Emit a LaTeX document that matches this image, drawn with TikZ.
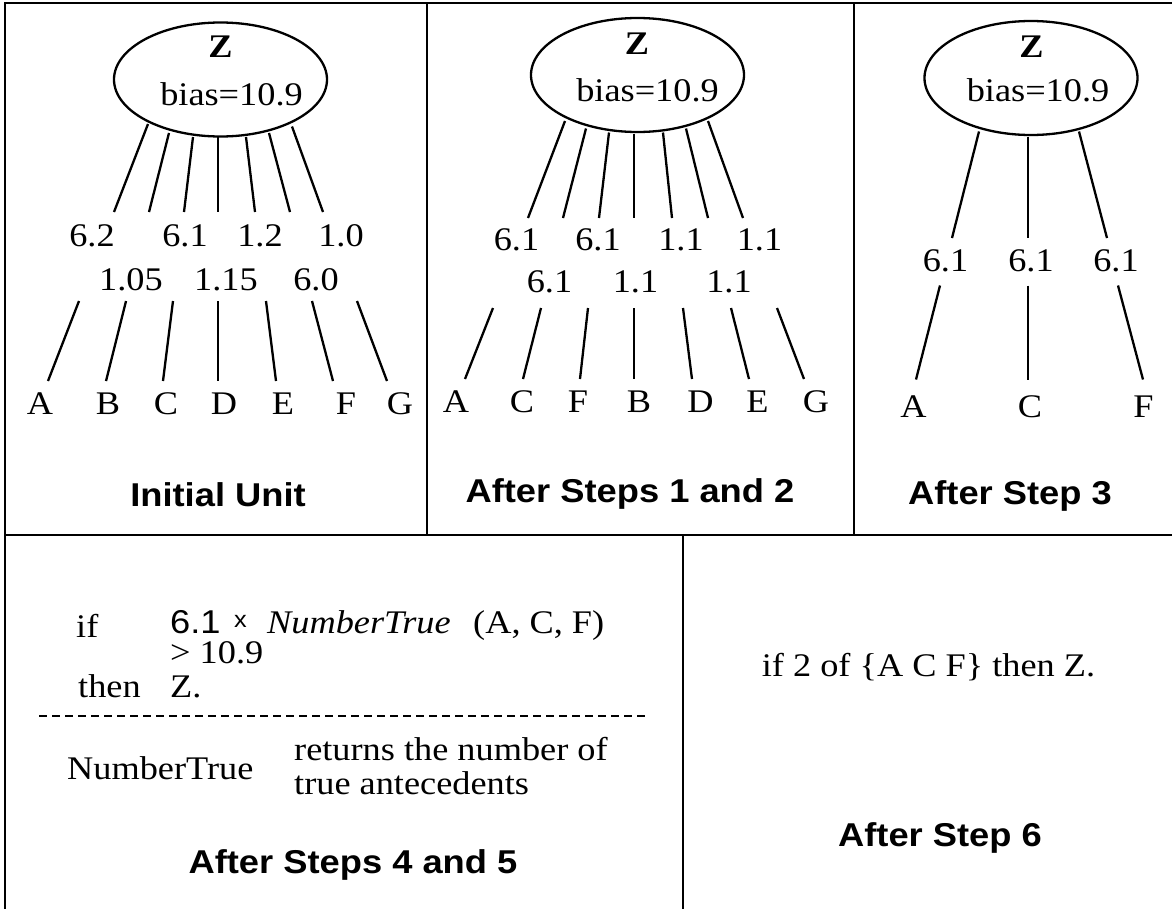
\documentclass[tikz,border=0pt]{standalone}
\usepackage{fontspec}
\setmainfont{Liberation Serif}[FakeStretch=1.1]
\setsansfont{Liberation Sans}[FakeStretch=1.1]
\usetikzlibrary{shapes.geometric}
\begin{document}
\begin{tikzpicture}[x=1bp,y=-1bp,
  frame/.style={line width=2.6bp},
  edge/.style={line width=2.3bp},
  unit/.style={draw,ellipse,line width=2.3bp,inner sep=0pt,minimum width=213bp,minimum height=114bp},
  txt/.style={inner sep=0pt,anchor=base,font=\fontsize{33bp}{40bp}\selectfont},
  txtw/.style={inner sep=0pt,anchor=base west,font=\fontsize{33bp}{40bp}\selectfont},
  ztxt/.style={inner sep=0pt,anchor=base,font=\fontsize{33bp}{40bp}\selectfont\bfseries},
  ttl/.style={inner sep=0pt,anchor=base,font=\fontsize{33bp}{40bp}\selectfont\sffamily\bfseries},
]
\useasboundingbox (0,0) rectangle (1172,909);

% frame
\coordinate (tl) at (5,3);
\coordinate (tr) at (1172,3);
\coordinate (bl) at (5,909);
\coordinate (ml) at (5,535);
\coordinate (mr) at (1172,535);
\coordinate (d1t) at (427,3);
\coordinate (d1b) at (427,535);
\coordinate (d2t) at (854,3);
\coordinate (d2b) at (854,535);
\coordinate (d3t) at (683,535);
\coordinate (d3b) at (683,909);
\draw[frame] (tr) -- (tl) -- (bl);
\draw[frame] (ml) -- (mr);
\draw[frame] (d1t) -- (d1b);
\draw[frame] (d2t) -- (d2b);
\draw[frame] (d3t) -- (d3b);

% ---------- panel 1 ----------
\node[unit] (u1) at (220.5,79.5) {};
\node[ztxt] (z1) at (220.5,57.5) {Z};
\node[txt] (b1) at (231.5,105) {bias=10.9};
\foreach \a/\b/\c/\d in {148/124/114/212, 169/133/149/212, 193/137/184/212, 218/137/218/212,
  246/137/255/212, 269/133/290/212, 292/126.5/323/212,
  79/301/48/381, 126/301/106/381, 173/301/163/381, 218/301/218/381,
  266/301/276/381, 312/301/333/381, 357/301/387/381}
  \draw[edge] (\a,\b) -- (\c,\d);
\node[txt] (w1a) at (92,246) {6.2};
\node[txt] (w1c) at (185,246) {6.1};
\node[txt] (w1e) at (260,246) {1.2};
\node[txt] (w1g) at (341,246) {1.0};
\node[txt] (w1b) at (131,290) {1.05};
\node[txt] (w1d) at (226,290) {1.15};
\node[txt] (w1f) at (316,290) {6.0};
\node[txt] (p1A) at (40,414) {A};
\node[txt] (p1B) at (108,414) {B};
\node[txt] (p1C) at (166,414) {C};
\node[txt] (p1D) at (224,414) {D};
\node[txt] (p1E) at (283,414) {E};
\node[txt] (p1F) at (346,414) {F};
\node[txt] (p1G) at (400,414) {G};
\node[ttl] (t1) at (218,506) {Initial Unit};

% ---------- panel 2 ----------
\node[unit] (u2) at (637.5,75) {};
\node[ztxt] (z2) at (637,54) {Z};
\node[txt] (b2) at (647.5,101) {bias=10.9};
\foreach \a/\b/\c/\d in {565/121/528/218, 586/128.5/563/218, 609/132.5/599/218, 634/133.5/634/218,
  663/132.5/672/218, 686/128.5/708/218, 708/121/743/218,
  493/308/465/379, 541/308/523/379, 588/308/580/379, 634/308/634/379,
  683/308/692/379, 731/308/749/379, 777/308/804/379}
  \draw[edge] (\a,\b) -- (\c,\d);
\node[txt] (w2a) at (516.5,250) {6.1};
\node[txt] (w2c) at (598,250) {6.1};
\node[txt] (w2e) at (681,250) {1.1};
\node[txt] (w2g) at (759.5,250) {1.1};
\node[txt] (w2b) at (549.5,292) {6.1};
\node[txt] (w2d) at (635.5,292) {1.1};
\node[txt] (w2f) at (729,292) {1.1};
\node[txt] (p2A) at (456,412) {A};
\node[txt] (p2C) at (522,412) {C};
\node[txt] (p2F) at (578,412) {F};
\node[txt] (p2B) at (639,412) {B};
\node[txt] (p2D) at (700.5,412) {D};
\node[txt] (p2E) at (757.5,412) {E};
\node[txt] (p2G) at (816,412) {G};
\node[ttl] (t2) at (630,502) {After Steps 1 and 2};

% ---------- panel 3 ----------
\node[unit] (u3) at (1031,78) {};
\node[ztxt] (z3) at (1031.5,57.5) {Z};
\node[txt] (b3) at (1038,101.5) {bias=10.9};
\foreach \a/\b/\c/\d in {979/131.5/952/238, 1028/136.5/1028/238, 1079/131.5/1107/238,
  940/285.5/916/379.5, 1028/285.5/1028/379.5, 1118/285.5/1143/379.5}
  \draw[edge] (\a,\b) -- (\c,\d);
\node[txt] (w3a) at (945.5,271) {6.1};
\node[txt] (w3c) at (1031,271) {6.1};
\node[txt] (w3f) at (1116,271) {6.1};
\node[txt] (p3A) at (913.5,417) {A};
\node[txt] (p3C) at (1030,417) {C};
\node[txt] (p3F) at (1143.5,417) {F};
\node[ttl] (t3) at (1010,504) {After Step 3};

% ---------- panel 4 ----------
\node[txtw] (if4) at (76,637) {if};
\node[txtw,font=\fontsize{33bp}{40bp}\selectfont\sffamily] (n4) at (170,633) {6.1};
\node[inner sep=0pt,anchor=base west,font=\fontsize{23bp}{28bp}\selectfont\sffamily] (x4) at (234,627) {x};
\node[txtw,font=\fontsize{33bp}{40bp}\selectfont\itshape] (nt4) at (267,633) {NumberTrue};
\node[txtw] (ar4) at (473,633) {(A, C, F)};
\node[txtw] (gt4) at (170,663) {> 10.9};
\node[txtw] (th4) at (78,697) {then};
\node[txtw] (zz4) at (170,697) {Z.};
\coordinate (dl) at (39,716);
\coordinate (dr) at (648,716);
\draw[line width=2.3bp,dash pattern=on 8bp off 5bp] (dl) -- (dr);
\node[txtw] (nt4b) at (67,779) {NumberTrue};
\node[txtw] (r4a) at (294,760) {returns the number of};
\node[txtw] (r4b) at (294,794) {true antecedents};
\node[ttl] (t4) at (353,873) {After Steps 4 and 5};

% ---------- panel 5 ----------
\node[txt] (r5) at (928.5,676) {if 2 of \{A C F\} then Z.};
\node[ttl] (t5) at (940,846) {After Step 6};
\end{tikzpicture}
\end{document}
